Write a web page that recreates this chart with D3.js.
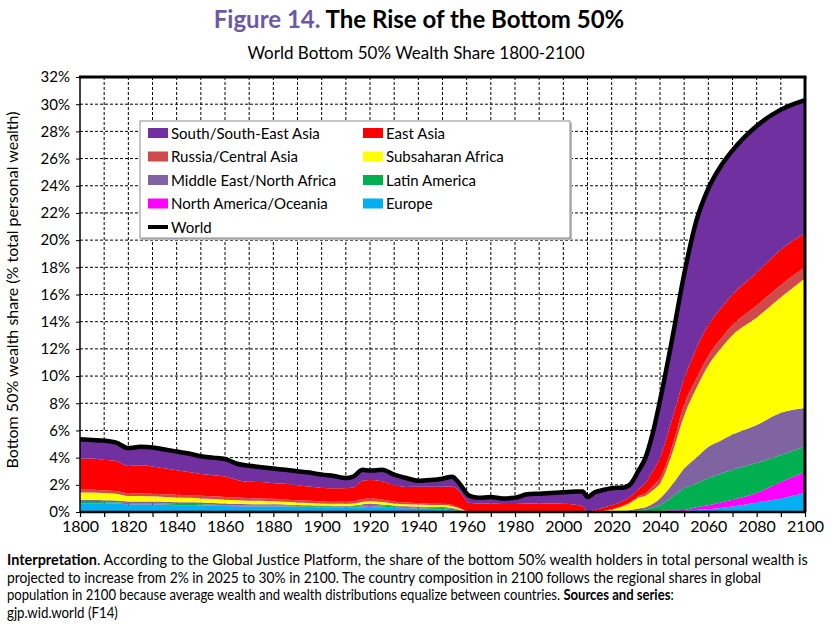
<!DOCTYPE html>
<html>
<head>
<meta charset="utf-8">
<script src="https://cdn.jsdelivr.net/npm/d3@7"></script>
<style>
  body { margin: 0; background: #fff; }
  text { font-family: Lato, "Open Sans", sans-serif; }
</style>
</head>
<body>
<svg id="chart" width="832" height="629"></svg>
<script>
// Data (% of total personal wealth, band thickness per region)
var years = [1800, 1805, 1810, 1815, 1820, 1825, 1830, 1835, 1840, 1845, 1850, 1855, 1860, 1865, 1870, 1875,
  1880, 1885, 1890, 1895, 1900, 1905, 1910, 1913, 1917, 1920, 1925, 1930, 1935, 1940, 1945, 1950, 1954, 1957,
  1961, 1965, 1970, 1975, 1980, 1985, 1990, 1995, 2000, 2005, 2008, 2010, 2013, 2016, 2020, 2025,
  2028, 2031, 2034, 2037, 2040, 2045, 2050, 2055, 2060, 2065, 2070, 2080, 2090, 2100];

var europe = [.65, .65, .63, .62, .55, .55, .55, .53, .5, .5, .48, .47, .45, .42, .4, .4,
  .4, .4, .38, .37, .35, .34, .33, .33, .35, .35, .34, .3, .27, .25, .22, .18, .12, .06,
  0, 0, 0, 0, 0, 0, 0, 0, 0, 0, 0, 0, 0, 0, 0, 0,
  0, 0, .01, .02, .03, .05, .07, .15, .2, .3, .4, .7, 1.0, 1.4];

var northAmerica = [.02, .02, .02, .02, .02, .02, .02, .02, .02, .02, .02, .02, .02, .02, .02, .02,
  .02, .02, .02, .02, .02, .02, .02, .03, .06, .07, .05, .04, .03, .03, .02, .02, .01, .01,
  0, 0, 0, 0, 0, 0, 0, 0, 0, 0, 0, 0, 0, 0, 0, 0,
  0, 0, .01, .02, .05, .07, .08, .2, .3, .4, .5, .7, 1.2, 1.55];

var latinAmerica = [.07, .07, .07, .07, .07, .07, .07, .07, .07, .07, .07, .05, .05, .05, .05, .05,
  .05, .05, .05, .05, .05, .05, .05, .06, .08, .1, .09, .08, .07, .07, .08, .1, .1, .06,
  0, 0, 0, 0, 0, 0, 0, 0, 0, 0, 0, 0, 0, 0, .02, .05,
  .08, .12, .16, .3, .42, .98, 1.6, 1.75, 2.0, 2.1, 2.2, 2.2, 2.0, 1.85];

var mena = [.15, .15, .15, .14, .14, .14, .13, .13, .13, .12, .12, .12, .11, .11, .1, .1,
  .1, .08, .07, .06, .05, .05, .05, .05, .08, .08, .08, .05, .05, .05, .05, .07, .07, .04,
  0, 0, 0, 0, 0, 0, 0, 0, 0, 0, 0, 0, 0, 0, 0, .04,
  .07, .13, .17, .26, .5, .9, 1.45, 1.9, 2.3, 2.45, 2.6, 2.8, 3.1, 2.85];

var africa = [.55, .55, .52, .5, .4, .4, .38, .36, .35, .33, .3, .3, .28, .26, .25, .25,
  .22, .2, .18, .17, .16, .15, .15, .15, .18, .2, .18, .16, .15, .15, .14, .14, .12, .08,
  0, 0, 0, 0, 0, 0, 0, 0, 0, 0, 0, 0, 0, .05, .15, .35,
  .55, .8, .85, 1.0, 1.1, 2.3, 3.9, 5.1, 6.0, 6.75, 7.3, 7.9, 8.5, 9.55];

var russia = [.2, .2, .2, .2, .2, .2, .2, .2, .2, .2, .2, .2, .2, .2, .2, .18,
  .18, .17, .16, .15, .15, .15, .15, .15, .2, .2, .18, .15, .12, .1, .1, .1, .1, .07,
  .03, .03, .03, .03, .03, .03, .03, .03, .03, .03, .02, 0, 0, .02, .03, .05,
  .05, .1, .18, .3, .4, .5, .8, .7, .7, .7, .75, .9, .9, .8];

var eastAsia = [2.3, 2.3, 2.25, 2.2, 2.0, 2.05, 2.0, 1.9, 1.8, 1.7, 1.6, 1.55, 1.5, 1.3, 1.2, 1.2,
  1.15, 1.15, 1.1, 1.05, 1.0, .98, 1.0, 1.05, 1.35, 1.35, 1.35, 1.2, 1.15, 1.2, 1.25, 1.25, 1.35, 1.2,
  .65, .6, .6, .55, .55, .6, .6, .6, .58, .5, .4, .05, .15, .25, .3, .35,
  .4, .5, .75, 1.1, 1.5, 2.0, 1.9, 2.2, 2.25, 2.25, 2.25, 2.4, 2.6, 2.5];

var southAsia = [1.41, 1.36, 1.41, 1.35, 1.32, 1.37, 1.4, 1.39, 1.38, 1.36, 1.31, 1.29, 1.29, 1.19, 1.18, 1.1,
  1.08, 1.03, 1.04, 1.03, .97, .91, .75, .78, .8, .7, .83, .77, .66, .45, .49, .59, .73, .58,
  .52, .42, .47, .42, .47, .67, .72, .77, .84, .97, 1.08, 1.05, 1.3, 1.28, 1.25, .96,
  .95, 1.35, 1.87, 2.8, 4.2, 5.9, 7.7, 9.4, 10.05, 10.45, 10.6, 10.8, 10.3, 9.8];

// Legend labels and colours (stack order bottom to top)
var keys = ["europe", "northAmerica", "latinAmerica", "mena", "africa", "russia", "eastAsia", "southAsia"];
var labels = {
  southAsia: "South/South-East Asia", eastAsia: "East Asia",
  russia: "Russia/Central Asia", africa: "Subsaharan Africa",
  mena: "Middle East/North Africa", latinAmerica: "Latin America",
  northAmerica: "North America/Oceania", europe: "Europe"
};
var colors = {
  southAsia: "#7030a0", eastAsia: "#ff0000", russia: "#cf4b4b", africa: "#ffff00",
  mena: "#8064a2", latinAmerica: "#00b050", northAmerica: "#ff00ff", europe: "#00b0f0"
};
var legendOrder = ["southAsia", "eastAsia", "russia", "africa", "mena", "latinAmerica", "northAmerica", "europe"];

var seriesData = { europe: europe, northAmerica: northAmerica, latinAmerica: latinAmerica, mena: mena,
  africa: africa, russia: russia, eastAsia: eastAsia, southAsia: southAsia };

// build rows for d3.stack
var rows = years.map((yr, i) => {
  var r = { year: yr };
  keys.forEach(k => { r[k] = seriesData[k][i]; });
  return r;
});

var svg = d3.select("#chart");
var plotLeft = 80, plotRight = 805, plotTop = 77, plotBottom = 512;

var x = d3.scaleLinear().domain([1800, 2100]).range([plotLeft, plotRight]);
var y = d3.scaleLinear().domain([0, 32]).range([plotBottom, plotTop]);

// Titles
var title = svg.append("text")
  .attr("x", 419).attr("y", 28)
  .attr("text-anchor", "middle")
  .style("font-size", "24px").style("font-weight", "bold");
title.append("tspan").attr("fill", "#6a5aa6").text("Figure 14. ");
title.append("tspan").attr("fill", "#000").text("The Rise of the Bottom 50%");

svg.append("text")
  .attr("x", 416).attr("y", 59)
  .attr("text-anchor", "middle")
  .style("font-size", "17px")
  .text("World Bottom 50% Wealth Share 1800-2100");

// Grid
var grid = svg.append("g").attr("class", "grid");
grid.selectAll(".vg")
  .data(d3.range(1810, 2100, 10))
  .enter().append("line")
  .attr("x1", d => x(d)).attr("x2", d => x(d))
  .attr("y1", plotTop).attr("y2", plotBottom);
grid.selectAll(".hg")
  .data(d3.range(2, 32, 2))
  .enter().append("line")
  .attr("x1", plotLeft).attr("x2", plotRight)
  .attr("y1", d => y(d)).attr("y2", d => y(d));
grid.selectAll("line")
  .attr("stroke", "#000").attr("stroke-width", 1).attr("stroke-dasharray", "3,2");

// Stacked areas
var stack = d3.stack().keys(keys);
var layers = stack(rows);

var area = d3.area()
  .x(d => x(d.data.year))
  .y0(d => y(d[0]))
  .y1(d => y(d[1]))
  .curve(d3.curveMonotoneX);

svg.append("g").selectAll("path")
  .data(layers)
  .enter().append("path")
  .attr("d", area)
  .attr("fill", d => colors[d.key]);

// World = total of the regions
var worldLine = d3.line()
  .x(d => x(d.data.year))
  .y(d => y(d[1]))
  .curve(d3.curveMonotoneX);

svg.append("path")
  .datum(layers[layers.length - 1])
  .attr("d", worldLine)
  .attr("fill", "none")
  .attr("stroke", "#000")
  .attr("stroke-width", 4.5)
  .attr("stroke-linejoin", "round");

// Axes
var xAxis = d3.axisBottom(x)
  .tickValues(d3.range(1800, 2101, 10))
  .tickFormat(d => d % 20 === 0 ? d : "")
  .tickSize(5).tickPadding(4);
var gx = svg.append("g").attr("transform", "translate(0," + plotBottom + ")").call(xAxis);
gx.select(".domain").remove();
gx.selectAll("text").style("font-size", "16px").style("font-family", "Lato");
gx.selectAll("line").attr("stroke-width", 1.2);

var yAxis = d3.axisLeft(y)
  .tickValues(d3.range(0, 33, 2))
  .tickFormat(d => d + "%")
  .tickSize(4).tickPadding(6);
var gy = svg.append("g").attr("transform", "translate(" + plotLeft + ",0)").call(yAxis);
gy.select(".domain").remove();
gy.selectAll("text").style("font-size", "15px").style("font-family", "Lato");

// Frame
svg.append("line").attr("x1", plotLeft).attr("x2", plotLeft).attr("y1", plotTop).attr("y2", plotBottom)
  .attr("stroke", "#000").attr("stroke-width", 1.5);
svg.append("line").attr("x1", plotLeft).attr("x2", plotRight).attr("y1", plotBottom).attr("y2", plotBottom)
  .attr("stroke", "#000").attr("stroke-width", 2.5);
svg.append("line").attr("x1", plotLeft - 1).attr("x2", plotRight + 1.5).attr("y1", plotTop).attr("y2", plotTop)
  .attr("stroke", "#000").attr("stroke-width", 3);
svg.append("line").attr("x1", plotRight).attr("x2", plotRight).attr("y1", plotTop).attr("y2", plotBottom)
  .attr("stroke", "#000").attr("stroke-width", 3);

// Y axis title
svg.append("text")
  .attr("transform", "translate(18,290) rotate(-90)")
  .attr("text-anchor", "middle")
  .style("font-size", "16px")
  .text("Bottom 50% wealth share (% total personal wealth)");

// Legend
var legend = svg.append("g");
legend.append("rect")
  .attr("x", 142).attr("y", 123).attr("width", 430).attr("height", 117)
  .attr("fill", "#bbb");
legend.append("rect")
  .attr("x", 140).attr("y", 121).attr("width", 430).attr("height", 117)
  .attr("fill", "#fff").attr("stroke", "#8c8c8c").attr("stroke-width", 1);

legendOrder.forEach((k, i) => {
  var lx = i % 2 === 0 ? 148 : 363;
  var ly = 133 + Math.floor(i / 2) * 23.5;
  legend.append("rect")
    .attr("x", lx).attr("y", ly - 5).attr("width", 20).attr("height", 10)
    .attr("fill", colors[k]);
  legend.append("text")
    .attr("x", lx + 23).attr("y", ly + 5.5)
    .style("font-size", "15px")
    .text(labels[k]);
});
legend.append("line")
  .attr("x1", 148).attr("x2", 168).attr("y1", 227).attr("y2", 227)
  .attr("stroke", "#000").attr("stroke-width", 4);
legend.append("text")
  .attr("x", 171).attr("y", 232.5)
  .style("font-size", "15px")
  .text("World");

// Footnote (squeezed horizontally to the width of the original lines)
var notes = [
  [["Interpretation", true], [". According to the Global Justice Platform, the share of the bottom 50% wealth holders in total personal wealth is", false]],
  [["projected to increase from 2% in 2025 to 30% in 2100. The country composition in 2100 follows the regional shares in global", false]],
  [["population in 2100 because average wealth and wealth distributions equalize between countries. ", false], ["Sources and series", true], [":", false]],
  [["gjp.wid.world (F14)", false]]
];
var noteWidths = [801, 755, 667, 111];

notes.forEach((parts, i) => {
  var t = svg.append("text")
    .attr("x", 0).attr("y", 0)
    .style("font-size", "14.5px");
  parts.forEach(p => {
    t.append("tspan").style("font-weight", p[1] ? "bold" : "normal").text(p[0]);
  });
  var w = t.node().getComputedTextLength();
  var sx = noteWidths[i] / w;
  t.attr("transform", "translate(7," + (565 + i * 17.7) + ") scale(" + sx + ",1)");
});
</script>
</body>
</html>
